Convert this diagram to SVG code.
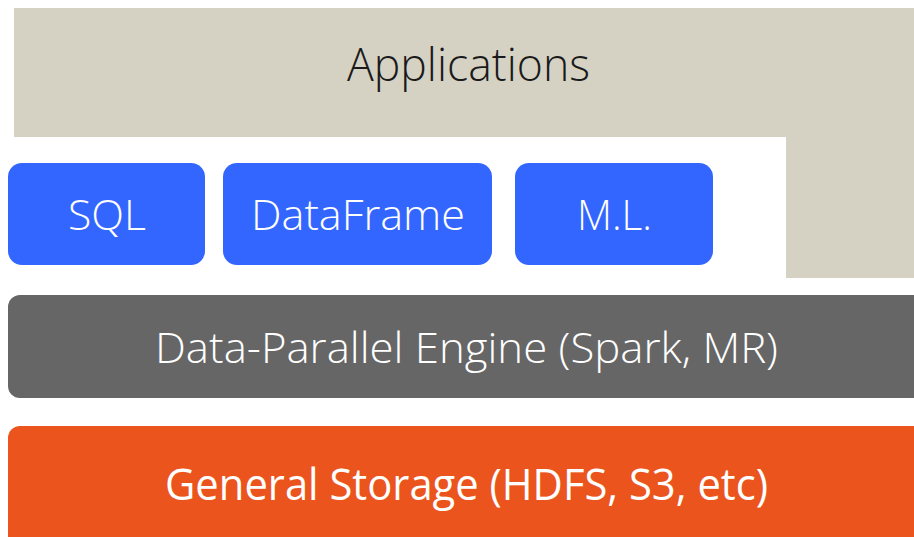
<svg xmlns="http://www.w3.org/2000/svg" width="914" height="537" viewBox="0 0 914 537">
  <style>
    .lbl { font-family: "Open Sans", "Liberation Sans", sans-serif; font-weight: 300; text-anchor: middle; }
    .lbl.strong { font-weight: 400; }
    .api { fill: #3366FF; }
    .white { fill: #FFFFFF; }
  </style>
  <rect width="914" height="537" fill="#FFFFFF"/>
  <g id="applications">
    <path d="M14,8 H914 V278 H786 V137 H14 Z" fill="#D5D2C4"/>
    <text class="lbl" x="468.5" y="81" font-size="46" fill="#1A1A1A" textLength="243" lengthAdjust="spacingAndGlyphs">Applications</text>
  </g>
  <g id="sql">
    <rect class="api" x="8" y="163" width="197" height="102" rx="14"/>
    <text class="lbl white" x="107" y="230" font-size="42" textLength="78" lengthAdjust="spacingAndGlyphs">SQL</text>
  </g>
  <g id="dataframe">
    <rect class="api" x="223" y="163" width="269" height="102" rx="14"/>
    <text class="lbl white" x="358" y="230" font-size="42" textLength="214" lengthAdjust="spacingAndGlyphs">DataFrame</text>
  </g>
  <g id="ml">
    <rect class="api" x="515" y="163" width="198" height="102" rx="14"/>
    <text class="lbl white" x="614.5" y="230" font-size="42" textLength="75" lengthAdjust="spacingAndGlyphs">M.L.</text>
  </g>
  <g id="engine">
    <rect x="8" y="295" width="924" height="103" rx="12" fill="#666666"/>
    <text class="lbl white" x="466.5" y="363" font-size="42" textLength="623" lengthAdjust="spacingAndGlyphs">Data-Parallel Engine (Spark, MR)</text>
  </g>
  <g id="storage">
    <rect x="8" y="426" width="924" height="130" rx="12" fill="#EB541D"/>
    <text class="lbl strong white" x="466.5" y="500" font-size="44" textLength="603" lengthAdjust="spacingAndGlyphs">General Storage (HDFS, S3, etc)</text>
  </g>
  <g id="connectors"/>
</svg>
